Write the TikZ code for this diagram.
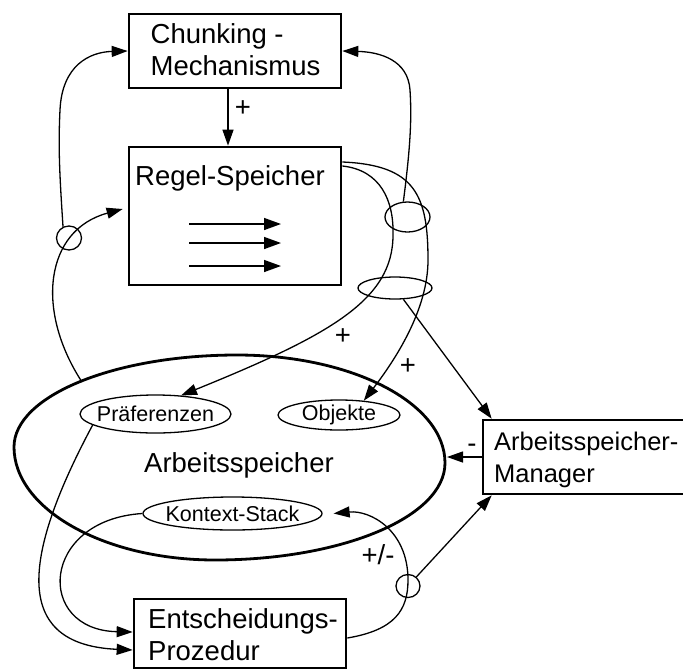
\documentclass[tikz,border=0pt]{standalone}
\usepackage{fontspec}
\setmainfont{Liberation Sans}
\usetikzlibrary{arrows.meta,shapes.geometric}
% two left-aligned lines whose baseline is the first line
\newcommand{\boxlines}[2]{\begin{tabular}[t]{@{}l@{}}#1\\#2\end{tabular}}

\begin{document}
\begin{tikzpicture}[x=1pt,y=-1pt,
  conn/.style={line width=1.3pt, -{Triangle[length=16pt,width=11pt]}},
  boxed/.style={draw, rectangle, line width=2.7pt, inner sep=0pt},
  bigtext/.style={inner sep=0pt, anchor=base west, font=\fontsize{27.5}{32}\selectfont},
  memtag/.style={ellipse, draw, line width=1.3pt, inner sep=0pt, font=\fontsize{21.5}{24}\selectfont},
  junction/.style={ellipse, draw, line width=1.3pt, inner sep=0pt},
  signlabel/.style={inner sep=0pt, anchor=base, font=\fontsize{27.5}{32}\selectfont},
]
\path[use as bounding box, fill=white] (0,0) rectangle (683,670);

% ---- boxes ----
\node[boxed, minimum width=212pt, minimum height=74pt]  (chunk)  at (235,51) {};
\node[boxed, minimum width=212pt, minimum height=138pt] (regel)  at (235,216) {};
\node[boxed, minimum width=237pt, minimum height=74pt]  (mgr)    at (601.5,457) {};
\node[boxed, minimum width=212pt, minimum height=69pt]  (entsch) at (240,633.5) {};

\node[bigtext] (chunklabel)  at (150.5,43) {\boxlines{Chunking -}{Mechanismus}};
\node[bigtext] (regellabel)  at (135,185)  {Regel-Speicher};
\node[bigtext, font=\fontsize{25.5}{32}\selectfont] (mgrlabel) at (494,450) {\boxlines{Arbeitsspeicher-}{Manager}};
\node[bigtext] (entschlabel) at (148,628)  {\boxlines{Entscheidungs-}{Prozedur}};

% productions inside the rule store
\foreach \yy in {224,243,266}
  \draw[line width=1.5pt, -{Triangle[length=17pt,width=12pt]}] (189,\yy) -- (281,\yy);

% ---- working memory: slightly tilted oval ----
\draw[line width=2.8pt]
  (14,447) .. controls (14,396) and (114,355) .. (237,355)
           .. controls (352,355) and (445,403) .. (445,463)
           .. controls (445,517) and (342,560) .. (215,560)
           .. controls (104,560) and (14,509) .. cycle;
\coordinate (astl) at (82,382);
\coordinate (asr)  at (447,457);
\node[bigtext] (aslabel) at (144,472) {Arbeitsspeicher};

\node[memtag, minimum width=151pt, minimum height=38pt] (pref)   at (155.5,414) {\makebox[0pt]{Präferenzen}};
\node[memtag, minimum width=122pt, minimum height=30pt] (obj)    at (339,415)   {\makebox[0pt]{Objekte}};
\node[memtag, minimum width=179pt, minimum height=33pt] (kstack) at (232.5,513.5) {\makebox[0pt]{Kontext-Stack}};

% ---- junctions ----
\node[junction, minimum width=25pt, minimum height=24pt] (lj) at (69,238) {};
\node[junction, minimum width=24pt, minimum height=23pt] (rj) at (408,586) {};
\node[junction, minimum width=45pt, minimum height=30pt] (uj) at (407.5,217) {};
\node[junction, minimum width=74pt, minimum height=22pt] (dj) at (395,288) {};

% ---- connectors ----
\draw[conn] ([xshift=-7pt]chunk.south) -- ([xshift=-7pt]regel.north);
\node[signlabel] (plus1) at (243,116) {+};

\draw[conn] (astl) .. controls (35,310) and (45,230) .. ([shift={(-5pt,7pt)}]regel.west);
\draw[conn] (lj.118) .. controls (60,180) and (58,150) .. (60,110)
            .. controls (62,65) and (90,52) .. (chunk.west);

\draw[conn] ([yshift=50pt]regel.east) .. controls (380,170) and (394,200) .. (393,235)
            .. controls (393,300) and (330,335) .. (pref.36);
\draw[conn] ([yshift=54pt]regel.east) .. controls (415,165) and (428,195) .. (428,260)
            .. controls (428,310) and (395,360) .. (obj.30);
\node[signlabel] (plus2) at (343,344) {+};
\node[signlabel] (plus3) at (408,374) {+};

\draw[conn] (uj.105) .. controls (410,150) and (412,120) .. (410,90)
            .. controls (408,60) and (380,52) .. (chunk.east);
\draw[conn] (dj) -- ([xshift=10pt]mgr.north west);

\draw[conn] (mgr.west) -- (asr);
\node[signlabel] (minus1) at (472,452) {-};

\draw[conn] (pref.190) .. controls (15,570) and (20,645) .. ([yshift=-16.5pt]entsch.west);
\draw[conn] (kstack.west) .. controls (40,520) and (35,630) .. ([yshift=1.5pt]entsch.west);
\draw[conn] ([yshift=-4.5pt]entsch.east) .. controls (395,630) and (408,610) .. (408,580)
            .. controls (408,530) and (370,510) .. ([xshift=11pt]kstack.east);
\node[signlabel] (plusminus) at (378,564) {+/-};
\draw[conn] (rj) -- ([xshift=10pt]mgr.south west);
\end{tikzpicture}
\end{document}
